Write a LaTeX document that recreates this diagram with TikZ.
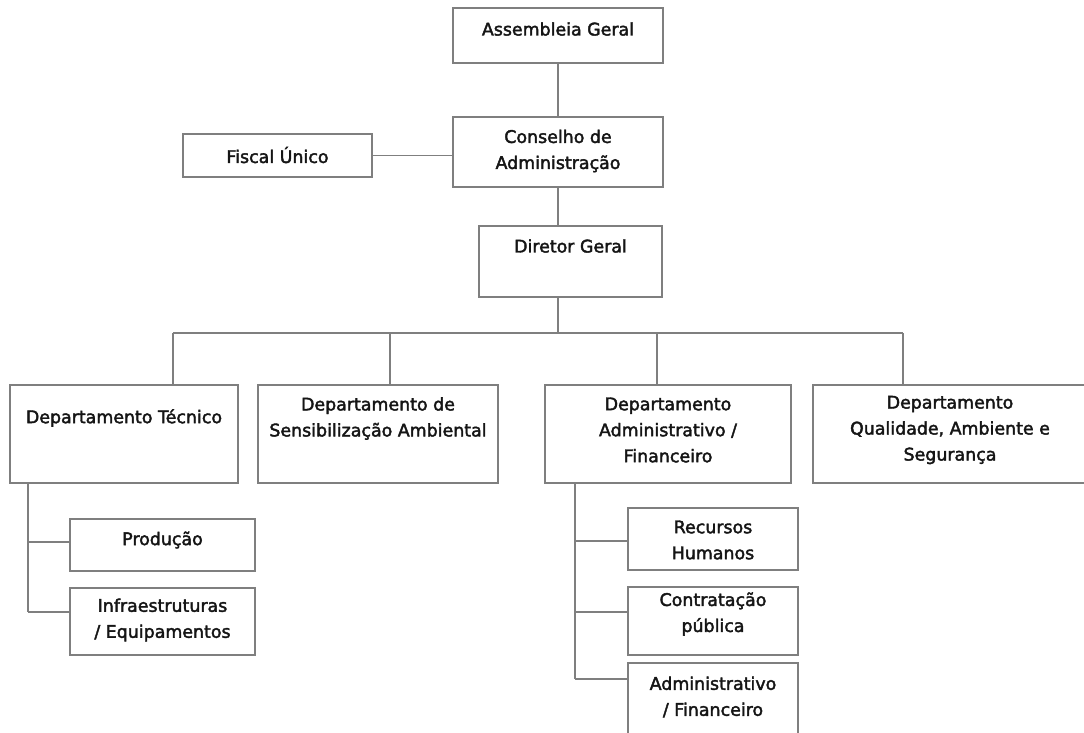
\documentclass[tikz,border=0pt]{standalone}
\usepackage{fontspec}
\setmainfont{DejaVu Sans}[BoldFont=DejaVu Sans, BoldFeatures={FakeBold=2.2}]
\definecolor{boxgray}{HTML}{7F7F7F}
\definecolor{inkgray}{HTML}{151515}
\tikzset{
  obox/.style={draw=boxgray, line width=1.6pt, fill=white, rectangle, inner sep=0pt, outer sep=0pt},
  otext/.style={font=\fontsize{17.4}{26}\selectfont\bfseries, text=inkgray, align=center, inner sep=0pt},
  conn/.style={draw=boxgray, line width=1.5pt},
}
\newcommand\orgbox[7]{%
  \node[obox, minimum width=#4pt, minimum height=#5pt, anchor=north west] (#1) at (#2,#3) {};
  \node[otext] (#1-t) at ({#2+#4/2},#6) {#7};}
\begin{document}
\begin{tikzpicture}[x=1pt,y=-1pt]
\useasboundingbox (0,0) rectangle (1084,733);
\clip (0,0) rectangle (1084,733);
\fill[white] (0,0) rectangle (1084,733);

% top chain
\orgbox{ag}{453}{8}{210}{55}{29}{Assembleia Geral}
\orgbox{ca}{453}{117}{210}{70}{151}{Conselho de\\Administração}
\orgbox{dg}{479}{226}{183}{71}{246}{Diretor Geral}
\orgbox{fu}{183}{134}{189}{43}{155}{Fiscal Único}

% departments
\orgbox{dt}{10}{385}{228}{98}{418}{Departamento Técnico}
\orgbox{ds}{258}{385}{240}{98}{418.5}{Departamento de\\Sensibilização Ambiental}
\orgbox{da}{545}{385}{246}{98}{430}{Departamento\\Administrativo /\\Financeiro}
\orgbox{dq}{813}{385}{274}{98}{430}{Departamento\\Qualidade, Ambiente e\\Segurança}

% sub units
\orgbox{pr}{70}{519}{185}{52}{540}{Produção}
\orgbox{ie}{70}{588}{185}{67}{620}{Infraestruturas\\/ Equipamentos}
\orgbox{rh}{628}{508}{170}{62}{540}{Recursos\\Humanos}
\orgbox{cp}{628}{587}{170}{68}{614}{Contratação\\pública}
\orgbox{af}{628}{663}{170}{100}{697}{Administrativo\\/ Financeiro}

% connectors top
\draw[conn] (ag.south) -- (ca.north);
\draw[conn] (fu.east) -- (fu.east -| ca.west);
\draw[conn] (ca.south) -- (ca.south |- dg.north);

% bus
\coordinate (bus) at (558,333);
\coordinate (b1) at (173,333);
\coordinate (b2) at (390,333);
\coordinate (b3) at (657,333);
\coordinate (b4) at (903,333);
\draw[conn] (bus |- dg.south) -- (bus);
\draw[conn] (b1) -- (b4);
\draw[conn] (b1) -- (b1 |- dt.north);
\draw[conn] (b2) -- (b2 |- ds.north);
\draw[conn] (b3) -- (b3 |- da.north);
\draw[conn] (b4) -- (b4 |- dq.north);

% technical subtree
\coordinate (t0) at (28,483);
\coordinate (t1) at (28,542);
\coordinate (t2) at (28,612);
\draw[conn] (t0) -- (t2);
\draw[conn] (t1) -- (t1 -| pr.west);
\draw[conn] (t2) -- (t2 -| ie.west);

% administrative subtree
\coordinate (a0) at (575,483);
\coordinate (a1) at (575,541);
\coordinate (a2) at (575,612);
\coordinate (a3) at (575,679);
\draw[conn] (a0) -- (a3);
\draw[conn] (a1) -- (a1 -| rh.west);
\draw[conn] (a2) -- (a2 -| cp.west);
\draw[conn] (a3) -- (a3 -| af.west);
\end{tikzpicture}
\end{document}
